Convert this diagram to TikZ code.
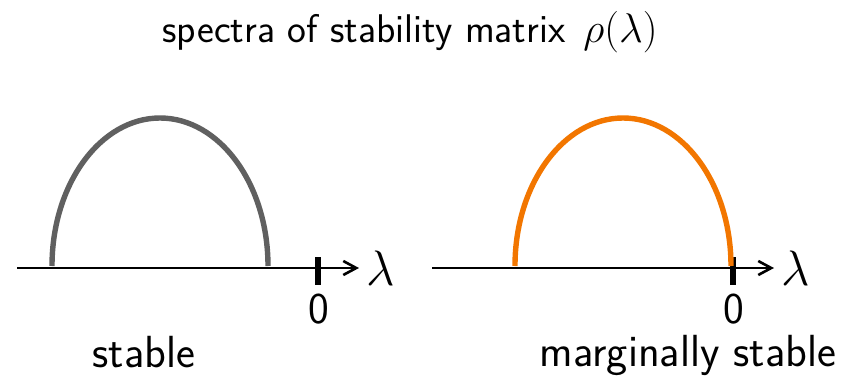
\documentclass[tikz,border=0pt]{standalone}
\usepackage{amsmath,amssymb}
\usepackage{tikz}
\usetikzlibrary{arrows.meta,positioning,calc}
\usepackage{xcolor}
\definecolor{stablegray}{RGB}{96,96,96}
\definecolor{margorange}{RGB}{242,118,0}

\tikzset{
  axisline/.style={line width=1pt,-{Straight Barb[length=6.5pt,width=7pt,line width=1.3pt]}},
  zerotick/.style={line width=2.8pt},
  spectrum/.style={line width=2.7pt},
  lbl/.style={font=\sffamily\fontsize{20}{24}\selectfont},
  zerolbl/.style={font=\sffamily\fontsize{22}{26}\selectfont},
  caption/.style={font=\sffamily\fontsize{22.5}{27}\selectfont,inner sep=0pt,anchor=base},
  varlbl/.style={font=\fontsize{23}{27}\selectfont},
}

\begin{document}
\begin{tikzpicture}[x=0.5pt,y=-0.5pt]
    \useasboundingbox (0,0) rectangle (843,376);
    % title
    \node[lbl] (title) at (410,32) {spectra of stability matrix\hspace{0.45em}$\rho(\lambda)$};
    % stable panel
    \coordinate (sA) at (17,268);
    \coordinate (sB) at (359,268);
    \coordinate (sZ) at (318,268);
    \draw[axisline] (sA) -- (sB);
    \draw[zerotick] ($(sZ)+(0,-11)$) -- ($(sZ)+(0,17)$);
    \draw[spectrum,stablegray] (52,266) arc[start angle=180,end angle=0,x radius=54pt,y radius=74pt];
    \node[varlbl,right=0pt of sB] (sL) {$\lambda$};
    \node[zerolbl] (s0) at (319,309) {0};
    \node[caption] (sT) at (144,367) {stable};
    % marginally stable panel
    \coordinate (mA) at (432,268);
    \coordinate (mB) at (774,268);
    \coordinate (mZ) at (733,268);
    \draw[axisline] (mA) -- (mB);
    \draw[zerotick] ($(mZ)+(0,-11)$) -- ($(mZ)+(0,17)$);
    \draw[spectrum,margorange] (515,266) arc[start angle=180,end angle=0,x radius=54pt,y radius=74pt];
    \node[varlbl,right=0pt of mB] (mL) {$\lambda$};
    \node[zerolbl] (m0) at (734,309) {0};
    \node[caption] (mT) at (688,366) {marginally stable};
\end{tikzpicture}
\end{document}
